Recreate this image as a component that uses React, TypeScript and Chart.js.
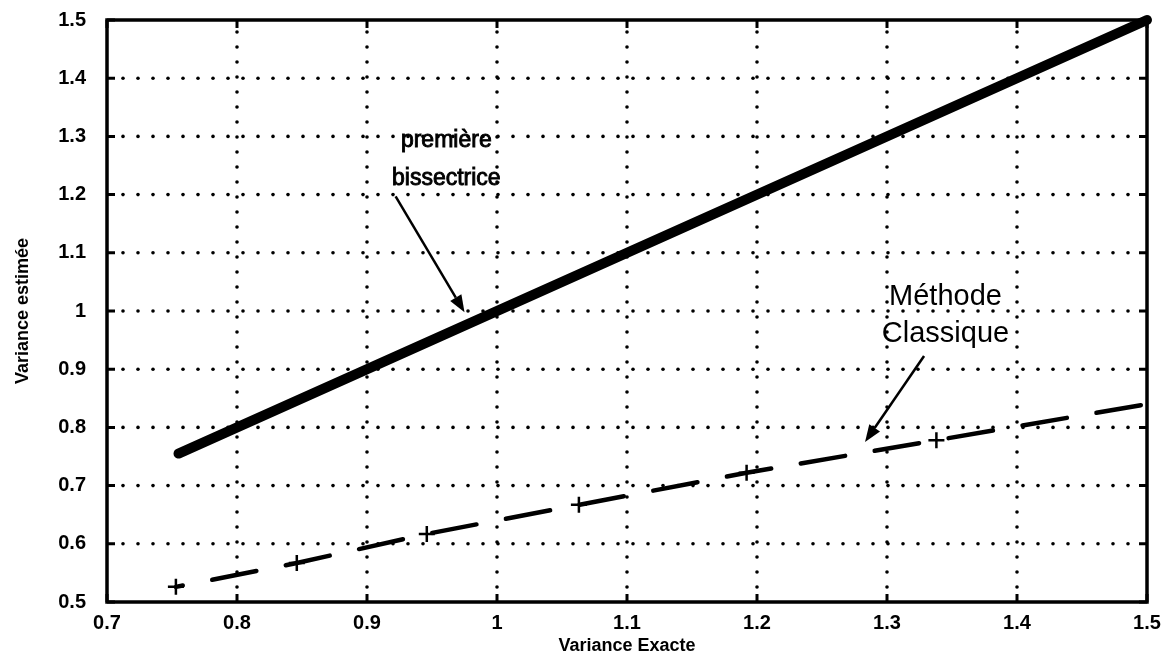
import { useEffect, useRef } from "react";
import { Chart, registerables } from "chart.js";

Chart.register(...registerables);

// Axis tick values
const xTicks = [0.7, 0.8, 0.9, 1.0, 1.1, 1.2, 1.3, 1.4, 1.5];
const yTicks = [0.5, 0.6, 0.7, 0.8, 0.9, 1.0, 1.1, 1.2, 1.3, 1.4, 1.5];

// First bisector (y = x)
const bisectorX = [0.755, 1.5];
const bisectorY = [0.755, 1.5];

// Classical method estimates
const classicX = [0.753, 0.846, 0.946, 1.063, 1.192, 1.338, 1.508];
const classicY = [0.526, 0.567, 0.617, 0.667, 0.722, 0.778, 0.843];

const FONT = '"Liberation Sans", Arial, Helvetica, sans-serif';

type Note = {
  lines: string[];
  cx: number;
  baselines: number[];
  from: [number, number];
  to: [number, number];
  font: string;
  stroke: number;
};

// Callout labels with arrows (data coordinates)
const notes: Note[] = [
  {
    lines: ["première", "bissectrice"],
    cx: 0.961,
    baselines: [1.282, 1.2165],
    from: [0.922, 1.197],
    to: [0.975, 0.998],
    font: `23px ${FONT}`,
    stroke: 0.9,
  },
  {
    lines: ["Méthode", "Classique"],
    cx: 1.345,
    baselines: [1.0103, 0.9467],
    from: [1.3285, 0.9227],
    to: [1.2831, 0.775],
    font: `29px ${FONT}`,
    stroke: 0,
  },
];

const fmt = (v: number) => String(Number(v.toFixed(2)));

const framePlugin = {
  id: "matlabFrame",
  beforeDatasetsDraw(chart: any) {
    const { ctx, chartArea } = chart;
    const { left, right, top, bottom } = chartArea;
    const xs = chart.scales.x;
    const ys = chart.scales.y;
    ctx.save();
    ctx.fillStyle = "#000";
    const dot = (px: number, py: number) => {
      ctx.beginPath();
      ctx.arc(px, py, 1.8, 0, Math.PI * 2);
      ctx.fill();
    };
    // dotted grid
    for (const v of xTicks) {
      const px = xs.getPixelForValue(v);
      if (px <= left + 2 || px >= right - 2) continue;
      for (let py = bottom - 15; py > top + 5; py -= 15) dot(px, py);
    }
    for (const v of yTicks) {
      const py = ys.getPixelForValue(v);
      if (py <= top + 2 || py >= bottom - 2) continue;
      for (let px = left + 16; px < right - 5; px += 15) dot(px, py);
    }
    // inner ticks
    ctx.strokeStyle = "#000";
    ctx.lineWidth = 3;
    const tl = 8;
    ctx.beginPath();
    for (const v of xTicks) {
      const px = xs.getPixelForValue(v);
      ctx.moveTo(px, bottom);
      ctx.lineTo(px, bottom - tl);
      ctx.moveTo(px, top);
      ctx.lineTo(px, top + tl);
    }
    for (const v of yTicks) {
      const py = ys.getPixelForValue(v);
      ctx.moveTo(left, py);
      ctx.lineTo(left + tl, py);
      ctx.moveTo(right, py);
      ctx.lineTo(right - tl, py);
    }
    ctx.stroke();
    // axes box
    ctx.lineWidth = 3.5;
    ctx.strokeRect(left, top, right - left, bottom - top);
    ctx.restore();
  },
  afterDatasetsDraw(chart: any) {
    const { ctx } = chart;
    const xs = chart.scales.x;
    const ys = chart.scales.y;
    ctx.save();
    ctx.fillStyle = "#000";
    ctx.strokeStyle = "#000";
    for (const n of notes) {
      ctx.font = n.font;
      ctx.textAlign = "center";
      ctx.textBaseline = "alphabetic";
      const cx = xs.getPixelForValue(n.cx);
      n.lines.forEach((t, i) => {
        const py = ys.getPixelForValue(n.baselines[i]);
        ctx.fillText(t, cx, py);
        if (n.stroke > 0) {
          ctx.lineWidth = n.stroke;
          ctx.strokeText(t, cx, py);
        }
      });
      const x0 = xs.getPixelForValue(n.from[0]);
      const y0 = ys.getPixelForValue(n.from[1]);
      const x1 = xs.getPixelForValue(n.to[0]);
      const y1 = ys.getPixelForValue(n.to[1]);
      const ang = Math.atan2(y1 - y0, x1 - x0);
      const hl = 17;
      const hw = 6.5;
      const bx = x1 - hl * Math.cos(ang);
      const by = y1 - hl * Math.sin(ang);
      ctx.lineWidth = 2.5;
      ctx.beginPath();
      ctx.moveTo(x0, y0);
      ctx.lineTo(bx, by);
      ctx.stroke();
      ctx.beginPath();
      ctx.moveTo(x1, y1);
      ctx.lineTo(bx + hw * Math.sin(ang), by - hw * Math.cos(ang));
      ctx.lineTo(bx - hw * Math.sin(ang), by + hw * Math.cos(ang));
      ctx.closePath();
      ctx.fill();
    }
    ctx.restore();
  },
};

export default function App() {
  const canvasRef = useRef<HTMLCanvasElement | null>(null);

  useEffect(() => {
    const canvas = canvasRef.current;
    if (!canvas) return;
    const chart = new Chart(canvas, {
      type: "line",
      data: {
        datasets: [
          {
            label: "première bissectrice",
            data: bisectorX.map((x, i) => ({ x, y: bisectorY[i] })),
            borderColor: "#000",
            borderWidth: 10,
            borderCapStyle: "round",
            pointRadius: 0,
            tension: 0,
            clip: false,
          },
          {
            label: "Méthode Classique",
            data: classicX.map((x, i) => ({ x, y: classicY[i] })),
            borderColor: "#000",
            borderWidth: 4.5,
            borderCapStyle: "round",
            borderDash: [45, 30],
            borderDashOffset: 38,
            pointStyle: "cross",
            pointRadius: classicX.map((_, i) => (i === classicX.length - 1 ? 0 : 8)),
            pointBorderWidth: 2.5,
            pointBorderColor: "#000",
            pointBackgroundColor: "#000",
            tension: 0,
            clip: false,
          },
        ],
      },
      options: {
        animation: false,
        responsive: false,
        events: [],
        layout: { padding: { top: 20, right: 21, left: 0, bottom: 0 } },
        plugins: {
          legend: { display: false },
          tooltip: { enabled: false },
        },
        scales: {
          x: {
            type: "linear",
            min: 0.7,
            max: 1.5,
            grid: { display: false },
            border: { display: false },
            afterBuildTicks: (s: any) => {
              s.ticks = xTicks.map((v) => ({ value: v }));
            },
            afterFit: (s: any) => {
              s.height = 63;
              s.paddingLeft = 0;
              s.paddingRight = 0;
            },
            ticks: {
              color: "#000",
              font: { family: FONT, size: 20, weight: "bold" },
              padding: 1,
              maxRotation: 0,
              callback: (v: any) => fmt(Number(v)),
            },
            title: {
              display: true,
              text: "Variance Exacte",
              color: "#000",
              font: { family: FONT, size: 18, weight: "bold" },
              padding: { top: 0, bottom: 8 },
            },
          },
          y: {
            type: "linear",
            min: 0.5,
            max: 1.5,
            grid: { display: false },
            border: { display: false },
            afterBuildTicks: (s: any) => {
              s.ticks = yTicks.map((v) => ({ value: v }));
            },
            afterFit: (s: any) => {
              s.width = 107;
              s.paddingTop = 0;
              s.paddingBottom = 0;
            },
            ticks: {
              color: "#000",
              font: { family: FONT, size: 20, weight: "bold" },
              padding: 13,
              callback: (v: any) => fmt(Number(v)),
            },
            title: {
              display: true,
              text: "Variance estimée",
              color: "#000",
              font: { family: FONT, size: 18, weight: "bold" },
              padding: { top: 12, bottom: 0 },
            },
          },
        },
      },
      plugins: [framePlugin],
    } as any);
    return () => chart.destroy();
  }, []);

  return (
    <div style={{ position: "fixed", left: 0, top: 0, width: 1168, height: 665, background: "#fff" }}>
      <canvas ref={canvasRef} width={1168} height={665} />
    </div>
  );
}
